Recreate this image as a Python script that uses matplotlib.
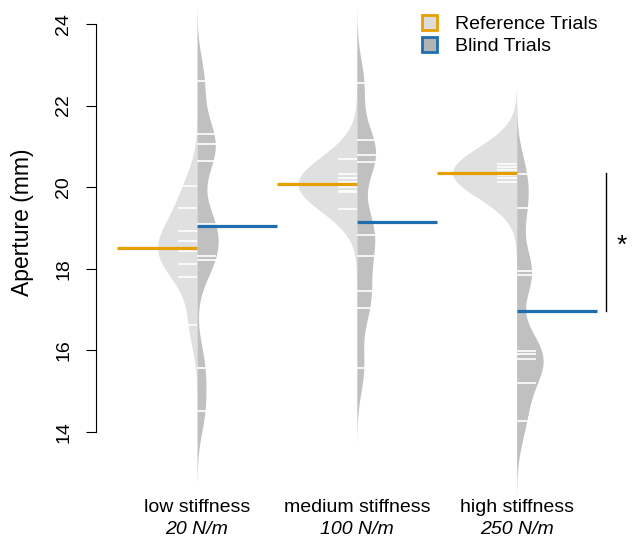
import numpy as np
import matplotlib.pyplot as plt
from matplotlib.patches import Patch
from matplotlib.transforms import blended_transform_factory

plt.rcParams["font.family"] = ["Liberation Sans", "DejaVu Sans"]

# categories
groups = ["low stiffness", "medium stiffness", "high stiffness"]
stiffness = ["20 N/m", "100 N/m", "250 N/m"]

# aperture (mm) per trial
ref_low = [20.02, 19.50, 18.93, 18.67, 18.51, 18.44, 18.12, 17.80, 16.62]
ref_medium = [20.68, 20.32, 20.22, 20.13, 20.08, 20.01, 19.91, 19.87, 19.47]
ref_high = [20.58, 20.50, 20.42, 20.30, 20.22, 20.12]

blind_low = [22.61, 21.30, 21.05, 20.65, 19.09, 19.05, 18.31, 18.22, 15.58, 14.52]
blind_medium = [22.55, 21.16, 20.79, 20.61, 19.13, 18.84, 18.32, 17.46, 17.03, 15.56]
blind_high = [20.32, 19.48, 17.95, 17.85, 15.99, 15.91, 15.78, 15.21, 14.27]

ref_data = [ref_low, ref_medium, ref_high]
blind_data = [blind_low, blind_medium, blind_high]

ORANGE = "#e69f00"
BLUE = "#1f6fb0"
REF_FILL = "#e0e0e0"
BLIND_FILL = "#c0c0c0"

BW = 0.6
CUT = 3
MAXWIDTH = 0.40


def kde(values, bw):
    values = np.asarray(values)
    grid = np.linspace(values.min() - CUT * bw, values.max() + CUT * bw, 400)
    dens = np.exp(-0.5 * ((grid[:, None] - values[None, :]) / bw) ** 2).sum(axis=1)
    dens /= len(values) * bw * np.sqrt(2 * np.pi)
    return grid, dens


fig = plt.figure(figsize=(6.36, 5.40), dpi=100)
ax = fig.add_axes([96 / 636, 0, 540 / 636, 1])

ref_kde = [kde(v, BW) for v in ref_data]
blind_kde = [kde(v, BW) for v in blind_data]
peak = max(d.max() for _, d in ref_kde + blind_kde)
scale = MAXWIDTH / peak

line_len = 0.12
for i in range(3):
    x = i + 1
    g, d = ref_kde[i]
    ax.fill_betweenx(g, x - d * scale, x, color=REF_FILL, lw=0)
    g, d = blind_kde[i]
    ax.fill_betweenx(g, x, x + d * scale, color=BLIND_FILL, lw=0)

    for v in ref_data[i]:
        ax.plot([x - line_len, x], [v, v], color="white", lw=1.2, solid_capstyle="butt")
    for v in blind_data[i]:
        ax.plot([x, x + line_len], [v, v], color="white", lw=1.2, solid_capstyle="butt")

    ax.plot([x - 0.5, x], [np.mean(ref_data[i])] * 2, color=ORANGE, lw=2.3,
            solid_capstyle="butt")
    ax.plot([x, x + 0.5], [np.mean(blind_data[i])] * 2, color=BLUE, lw=2.3,
            solid_capstyle="butt")

# significance marker for high stiffness
ax.plot([3.56, 3.56], [np.mean(ref_high), np.mean(blind_high)], color="black", lw=1)
ax.text(3.66, 18.55, "*", fontsize=19, ha="center", va="center")

ax.set_xlim(0.368, 3.747)
ax.set_ylim(11.353, 24.588)

for side in ["top", "right", "bottom"]:
    ax.spines[side].set_visible(False)
ax.spines["left"].set_bounds(14, 24)
ax.set_xticks([])
ax.set_yticks(range(14, 25, 2))
ax.set_yticklabels([str(t) for t in range(14, 25, 2)], rotation=90, va="center")
ax.tick_params(axis="y", length=7, width=0.8, labelsize=14, pad=10)

fig.text(23 / 636, 1 - 222 / 540, "Aperture (mm)", rotation=90, fontsize=16.5,
         ha="center", va="center")

trans = blended_transform_factory(ax.transData, fig.transFigure)
for i in range(3):
    ax.text(i + 1, 1 - 508 / 540, groups[i], transform=trans, fontsize=14,
            ha="center", va="center")
    ax.text(i + 1, 1 - 530 / 540, stiffness[i], transform=trans, fontsize=14,
            ha="center", va="center", style="italic")

handles = [
    Patch(facecolor="#dcdcdc", edgecolor=ORANGE, lw=2, label="Reference Trials"),
    Patch(facecolor="#b3b3b3", edgecolor=BLUE, lw=2, label="Blind Trials"),
]
ax.legend(handles=handles, loc="upper left", bbox_to_anchor=(422 / 636, 1 - 15 / 540),
          bbox_transform=fig.transFigure, frameon=False, fontsize=14,
          handlelength=0.78, handleheight=0.78, handletextpad=0.9,
          labelspacing=0.2, borderpad=0, borderaxespad=0)

fig.savefig("out.png", dpi=100)
